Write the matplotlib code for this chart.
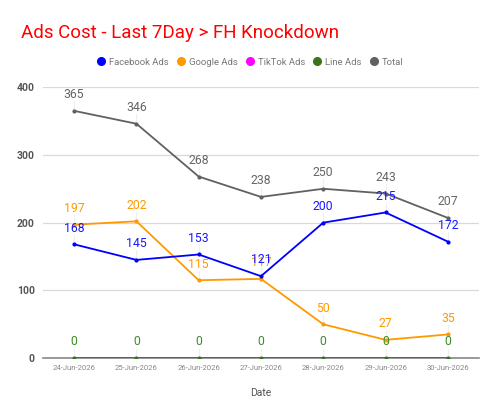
import matplotlib.pyplot as plt
from matplotlib.lines import Line2D

plt.rcParams['font.family'] = ['Roboto', 'DejaVu Sans']

dates = ['24-Jun-2026', '25-Jun-2026', '26-Jun-2026', '27-Jun-2026',
         '28-Jun-2026', '29-Jun-2026', '30-Jun-2026']
facebook = [168, 145, 153, 121, 200, 215, 172]
google = [197, 202, 115, 117, 50, 27, 35]
line_ads = [0, 0, 0, 0, 0, 0, 0]
total = [365, 346, 268, 238, 250, 243, 207]

series = [
    ('Total', total, '#616161'),
    ('Google Ads', google, '#ff9900'),
    ('Facebook Ads', facebook, '#0000ff'),
    ('Line Ads', line_ads, '#38761d'),
]
label_colors = {'Total': '#666666', 'Google Ads': '#ff9900',
                'Facebook Ads': '#1a1aff', 'Line Ads': '#3d8c2a'}

fig = plt.figure(figsize=(5, 4.15), dpi=100)
ax = fig.add_axes([0.086, 0.137, 0.872, 0.653])

x = list(range(len(dates)))
for name, vals, col in series:
    ax.plot(x, vals, color=col, lw=1.3, marker='o', ms=2, zorder=3)
    for xi, v in zip(x, vals):
        ax.plot([xi, xi], [v, v + 14], color='#eeeeee', lw=0.8, zorder=1)
        ax.annotate(str(v), (xi, v), xytext=(0, 7), textcoords='offset points',
                    ha='center', va='bottom', fontsize=8.8,
                    color=label_colors[name], zorder=4)

ax.set_xlim(-0.5, 6.5)
ax.set_ylim(0, 400)
ax.set_yticks([0, 100, 200, 300, 400])
ax.set_xticks(x)
ax.set_xticklabels(dates, fontsize=5.5, color='#888888')
ax.tick_params(axis='y', length=0, labelsize=7.5, labelcolor='#555555', pad=6)
ax.tick_params(axis='x', length=0, pad=5)
for lbl in ax.get_yticklabels():
    lbl.set_fontweight('bold')
ax.grid(axis='y', color='#d9d9d9', lw=0.9)
ax.set_axisbelow(True)
for s in ['top', 'right', 'left']:
    ax.spines[s].set_visible(False)
ax.spines['bottom'].set_color('#888888')
ax.spines['bottom'].set_linewidth(1.2)
ax.set_xlabel('Date', fontsize=7.5, color='#555555', labelpad=12)

fig.text(0.042, 0.921, 'Ads Cost - Last 7Day > FH Knockdown', color='#ff0000',
         fontsize=13.5, va='center')

legend_items = [('Facebook Ads', '#0000ff'), ('Google Ads', '#ff9900'),
                ('TikTok Ads', '#ff00ff'), ('Line Ads', '#38761d'),
                ('Total', '#616161')]
handles = [Line2D([], [], ls='none', marker='o', ms=5.5, color=c) for _, c in legend_items]
fig.legend(handles, [n for n, _ in legend_items], loc='center', ncol=5,
           bbox_to_anchor=(0.5, 0.85), frameon=False, fontsize=6.8,
           labelcolor='#777777', handletextpad=0.35, columnspacing=0.8,
           handlelength=1.0)

fig.savefig('out.png', dpi=100)
